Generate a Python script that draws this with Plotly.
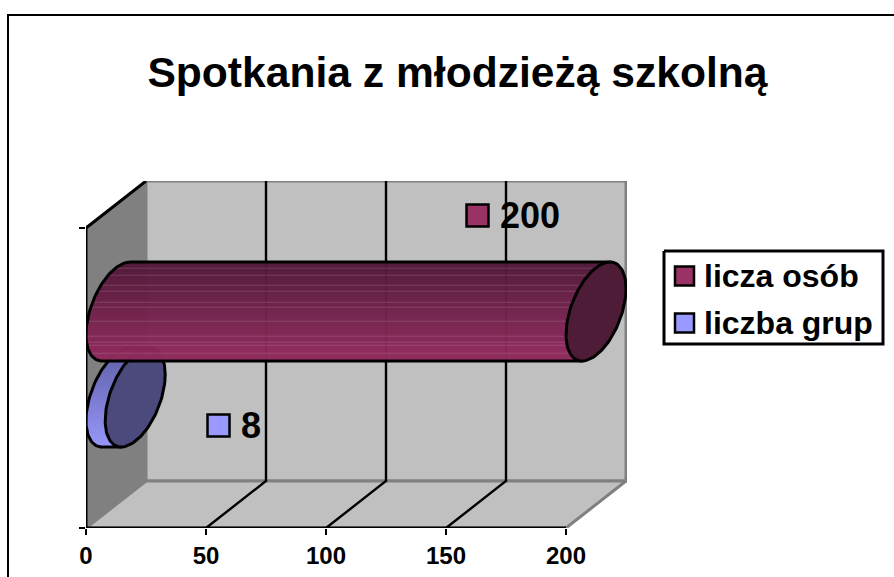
import numpy as np
import plotly.graph_objects as go

# ---- data ----
TITLE = "Spotkania z młodzieżą szkolną"
SERIES_NAMES = ["liczba grup", "licza osób"]
SERIES_VALUES = [8, 200]
X_TICKS = [0, 50, 100, 150, 200]
GRID_VALUES = [50, 100, 150]

# ---- style / geometry ----
W, H = 894, 577
FONT = "Liberation Sans"
X0_PX, X1_PX, XMAX_PX = 86, 566, 627     # front axis start/end, plot area end
FLOOR_PX, TOP_PX = 528, 181
PX_PER_UNIT = (X1_PX - X0_PX) / max(X_TICKS)
DX = 60 / PX_PER_UNIT                    # depth in value units
DY = 47                                  # depth in px units
WALL_H = 300
RX = DX / 2                              # half-depth of disc, value units
RDY = DY / 2 - 0.5
RV = 43.8                                # vertical half-axis
CENTER_Y = [FLOOR_PX - 397.5, FLOOR_PX - 311.5]
TOP_COL = [(0x5E, 0x5E, 0xA6), (0x52, 0x1A, 0x3A)]
BOT_COL = [(0x99, 0x99, 0xFF), (0x93, 0x2C, 0x5F)]
FACE_COL = ["#4C4A7C", "#4F1C37"]
KEY_COL = ["#9999FF", "#993366"]
LABEL_POS = [(218.5, 425.5), (477.5, 215.5)]      # key squares, page px
LEGEND_BOX = (664, 251, 883, 344)
LEGEND_KEY_X = 684.5
LEGEND_ROW_Y = [323, 276]
LEGEND_TEXT_X = 702
STREAK_ROWS = {268, 275, 285, 291, 302, 307, 321, 336, 342, 345, 353}
EDGE = 3


def lerp(a, b, t):
    return tuple(a[i] + (b[i] - a[i]) * t for i in range(3))


def ux(px):
    return (px - X0_PX) / PX_PER_UNIT


def ell(cx, cy, t):
    return cx + RX * np.cos(t), cy + RDY * np.cos(t) + RV * np.sin(t)


def row_left(Y):
    """x-offset of the disc's left boundary at vertical offset Y"""
    k = RDY / RX
    q = RV / RX
    a = k * k + q * q
    disc = max(k * k * Y * Y - a * (Y * Y - RV * RV), 0)
    return (k * Y - np.sqrt(disc)) / a


fig = go.Figure()


def poly(xs, ys, fill=None, color="black", width=EDGE, page=False):
    fig.add_trace(go.Scatter(
        x=list(xs), y=list(ys), mode="lines", showlegend=False, hoverinfo="skip",
        fill="toself" if fill else None, fillcolor=fill,
        xaxis="x2" if page else "x", yaxis="y2" if page else "y",
        line=dict(color=color, width=width), cliponaxis=False))


xmax = max(X_TICKS)
# walls and floor
poly([0, DX, DX, 0, 0], [0, DY, DY + WALL_H, WALL_H, 0], fill="#808080", color="#808080", width=1)
poly([DX, xmax + DX, xmax + DX, DX, DX], [DY, DY, DY + WALL_H, DY + WALL_H, DY],
     fill="#C0C0C0", color="#808080", width=3)
poly([0, xmax, xmax + DX, DX, 0], [0, 0, DY, DY, 0], fill="#C0C0C0", color="#808080", width=3)
# grid
for g in GRID_VALUES:
    poly([g, g + DX, g + DX], [0, DY, DY + WALL_H], width=2.4)
# left edges and front axis line
poly([DX, 0, 0], [DY + WALL_H, WALL_H, 0], width=3)
poly([0, xmax], [0, 0], width=3)

# cylinders
for i, (v, cy) in enumerate(zip(SERIES_VALUES, CENTER_Y)):
    ext = np.hypot(RDY, RV)
    cx0 = RX
    cx1 = RX + v
    top_py = int(round(FLOOR_PX - cy - ext))
    bot_py = int(round(FLOOR_PX - cy + ext))
    for py in range(top_py, bot_py):
        Y = (FLOOR_PX - py - 0.5) - cy
        off = row_left(Y)
        c = lerp(TOP_COL[i], BOT_COL[i], (py - top_py) / (bot_py - top_py - 1))
        if i == 1 and py in STREAK_ROWS:
            c = lerp(c, (255, 255, 255), 0.14)
        col = "rgba(%d,%d,%d,0.96)" % c
        poly([cx0 + off, cx1 + off], [Y + cy, Y + cy], color=col, width=1.5)
    # silhouette
    t_top = np.arctan2(RV, RDY)
    t = np.linspace(t_top, t_top + np.pi, 60)
    ax, ay = ell(cx0, cy, t)
    poly(list(ax) + [ax[-1] + v, ax[0] + v, ax[0]], list(ay) + [ay[-1], ay[0], ay[0]])
    # end face
    t = np.linspace(0, 2 * np.pi, 120)
    fx, fy = ell(cx1, cy, t)
    poly(fx, fy, fill=FACE_COL[i])

BOLD = dict(family=FONT, color="black", weight=700)

# legend frame (page pixel axes)
lx0, ly0, lx1, ly1 = LEGEND_BOX
poly([lx0, lx1, lx1, lx0, lx0], [ly0, ly0, ly1, ly1, ly0], fill="white", width=3, page=True)

# data-label keys and legend keys
for i in [1, 0]:
    px, py = LABEL_POS[i]
    fig.add_trace(go.Scatter(
        x=[px, LEGEND_KEY_X], y=[py, LEGEND_ROW_Y[i]], xaxis="x2", yaxis="y2",
        mode="markers", name=SERIES_NAMES[i], showlegend=False,
        cliponaxis=False, hoverinfo="skip",
        marker=dict(symbol="square", size=[22, 19], color=KEY_COL[i], opacity=1,
                    line=dict(color="black", width=2.5))))
    fig.add_annotation(
        x=px + 20, y=py, xref="x2", yref="y2", text=str(SERIES_VALUES[i]), showarrow=False,
        xanchor="left", yanchor="middle", font=dict(size=36, **BOLD))
    fig.add_annotation(
        x=LEGEND_TEXT_X, y=LEGEND_ROW_Y[i], xref="x2", yref="y2", text=SERIES_NAMES[i], showarrow=False,
        xanchor="left", yanchor="middle", font=dict(size=32, **BOLD))

fig.update_layout(
    width=W, height=H, autosize=False, showlegend=False,
    margin=dict(l=0, r=0, t=0, b=0, pad=0, autoexpand=False),
    paper_bgcolor="white", plot_bgcolor="rgba(0,0,0,0)",
    title=dict(text=TITLE, x=457.5 / W, xanchor="center", xref="paper", y=1 - 72 / H,
               yanchor="middle", yref="paper", font=dict(size=42.6, **BOLD)),
    xaxis=dict(domain=[X0_PX / W, XMAX_PX / W], range=[0, ux(XMAX_PX)], tickvals=X_TICKS,
               showgrid=False, zeroline=False, showline=False, ticks="outside", ticklen=6,
               tickwidth=2.4, tickcolor="black", fixedrange=True,
               tickfont=dict(size=24, **BOLD)),
    yaxis=dict(domain=[1 - FLOOR_PX / H, 1 - TOP_PX / H], range=[0, FLOOR_PX - TOP_PX],
               tickvals=[0, WALL_H], showticklabels=False, showgrid=False, zeroline=False,
               showline=False, ticks="outside", ticklen=6, tickwidth=2.4, tickcolor="black",
               fixedrange=True),
    xaxis2=dict(domain=[0, 1], range=[0, W], visible=False, anchor="y2", fixedrange=True),
    yaxis2=dict(domain=[0, 1], range=[H, 0], visible=False, anchor="x2", fixedrange=True),
    shapes=[dict(type="line", xref="paper", yref="paper", x0=8 / W, x1=8 / W, y0=0, y1=1 - 15 / H,
                 line=dict(color="black", width=2)),
            dict(type="line", xref="paper", yref="paper", x0=7 / W, x1=1, y0=1 - 15 / H, y1=1 - 15 / H,
                 line=dict(color="black", width=2))],
)
fig.write_html("out.html", config={"displayModeBar": False},
               post_script="document.body.style.margin='0';document.documentElement.style.overflow='hidden';")
